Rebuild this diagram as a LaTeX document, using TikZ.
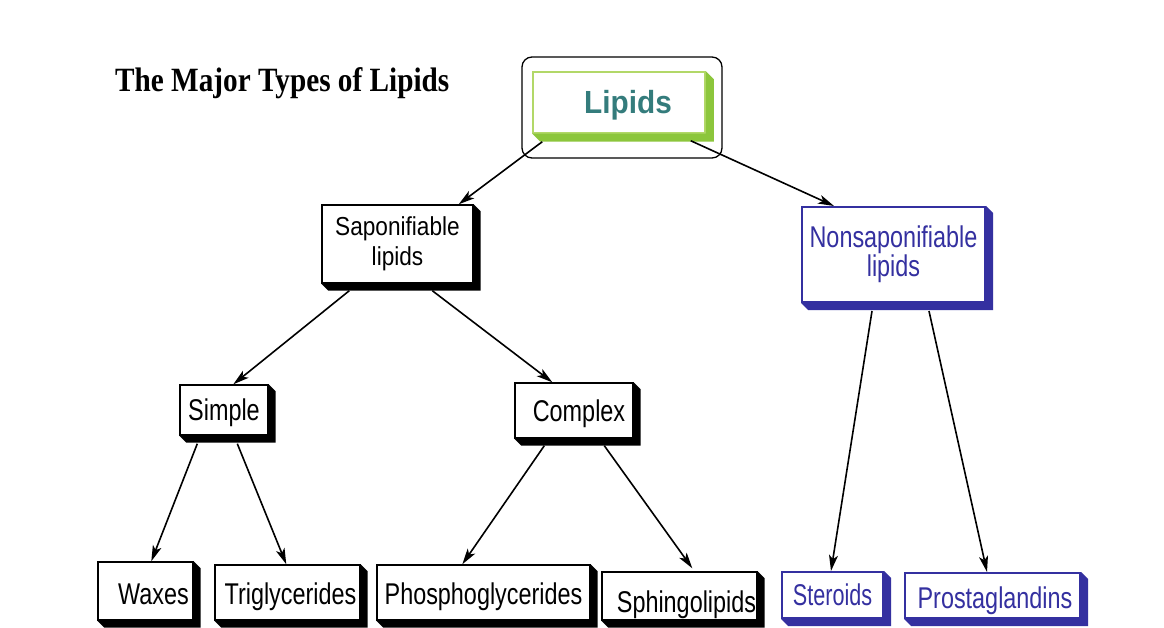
\documentclass[tikz,border=0pt]{standalone}
\usepackage{fontspec}
\setmainfont{Liberation Sans}
\newfontfamily\fA[FakeStretch=0.78]{Liberation Sans}
\newfontfamily\fB[FakeStretch=0.87]{Liberation Sans}
\newfontfamily\fC[FakeStretch=0.72]{Liberation Sans}
\newfontfamily\fL[FakeStretch=0.93]{Liberation Sans}
\newfontfamily\fT[FakeStretch=0.86]{Liberation Serif}
\usetikzlibrary{arrows.meta,calc}
\definecolor{nblue}{RGB}{52,48,160}
\definecolor{lgreen}{RGB}{140,198,60}
\definecolor{lgreenb}{RGB}{178,216,104}
\definecolor{tealtx}{RGB}{52,124,124}
\tikzset{
  bcore/.style={draw=black, line width=1.4pt, fill=white, inner sep=0pt, text=black, align=center,
    font=\fA\fontsize{30}{36}\selectfont},
  bbox/.style={bcore, text height=21.6pt, text depth=0pt},
  ucore/.style={bcore, draw=nblue, text=nblue, line width=2pt},
  ubox/.style={bbox, draw=nblue, text=nblue, line width=2pt},
  arr/.style={-{Stealth[length=16pt,width=9pt,inset=4pt]}, line width=1.6pt},
}
\newcommand\dropshade[3]{% name, colour, depth
  \fill[#2] (#1.south west) -- ++(#3,#3) -| ($(#1.north east)+(#3,#3)$) -- (#1.north east) -- (#1.south east) -- cycle;}
\begin{document}
\begin{tikzpicture}[x=1pt,y=-1pt]
\useasboundingbox (0,0) rectangle (1164,628);
\fill[white] (0,0) rectangle (1164,628);

% title
\node[anchor=base west, inner sep=0pt, font=\fT\bfseries\fontsize{34}{36}\selectfont] (title) at (115,92) {The Major Types of Lipids};

% Lipids
\node[draw=black, line width=1.3pt, rounded corners=10pt, minimum width=200pt, minimum height=101pt, inner sep=0pt] (lipout) at (622,107.5) {};
\node[draw=lgreenb, line width=1.5pt, fill=white, inner sep=0pt, minimum width=172pt, minimum height=61pt,
  text=tealtx, font=\fL\bfseries\fontsize{32}{36}\selectfont, text height=23pt, text depth=0pt] (lipin) at (619,102.5) {\hspace*{18pt}Lipids};
\dropshade{lipin}{lgreen}{8}

% level 2
\node[bcore, minimum width=151pt, minimum height=78pt, font=\fB\fontsize{26}{30}\selectfont] (sap) at (397.5,244) {Saponifiable\\lipids};
\dropshade{sap}{black}{7}
\node[ucore, minimum width=183pt, minimum height=95pt, font=\fA\fontsize{30}{29}\selectfont] (nonsap) at (893.5,254.5) {Nonsaponifiable\\lipids};
\dropshade{nonsap}{nblue}{7}

% level 3
\node[bbox, minimum width=88pt, minimum height=50pt] (simple) at (224,410) {Simple};
\dropshade{simple}{black}{7}
\node[bbox, minimum width=118pt, minimum height=55pt] (complex) at (574,410.5) {\hspace*{10pt}Complex};
\dropshade{complex}{black}{7}

% level 4
\node[bbox, minimum width=95pt, minimum height=58pt, text height=26.6pt] (waxes) at (145.5,591) {\hspace*{16pt}Waxes};
\dropshade{waxes}{black}{7}
\node[bbox, minimum width=145pt, minimum height=55pt, text height=23.6pt] (trig) at (287.5,592.5) {\hspace*{6pt}Triglycerides};
\dropshade{trig}{black}{7}
\node[bbox, minimum width=213pt, minimum height=55pt, text height=23.6pt] (phos) at (483.5,592.5) {Phosphoglycerides};
\dropshade{phos}{black}{7}
\node[bbox, minimum width=155pt, minimum height=48pt, text height=33pt] (sphingo) at (679.5,596) {\hspace*{14pt}Sphingolipids};
\dropshade{sphingo}{black}{7}
\node[ubox, minimum width=101pt, minimum height=46pt, font=\fC\fontsize{30}{36}\selectfont] (steroids) at (832.5,595) {Steroids};
\dropshade{steroids}{nblue}{7}
\node[ubox, minimum width=175pt, minimum height=45pt, text height=25.6pt] (prosta) at (992.5,595.5) {\hspace*{5pt}Prostaglandins};
\dropshade{prosta}{nblue}{7}

% connectors
\draw[arr] ($(lipin.south west)+(10,8)$) -- ($(sap.north east)+(-15,0)$);
\draw[arr] ($(lipin.south east)+(-15,7)$) -- ($(nonsap.north west)+(33,0)$);
\draw[arr] ($(sap.south west)+(28,7)$) -- ($(simple.north west)+(54,0)$);
\draw[arr] ($(sap.south west)+(111,7)$) -- ($(complex.north west)+(38,0)$);
\draw[arr] ($(simple.south west)+(18,8)$) -- ($(waxes.north west)+(54,0)$);
\draw[arr] ($(simple.south west)+(58,8)$) -- ($(trig.north west)+(72,0)$);
\draw[arr] ($(complex.south west)+(30,7)$) -- ($(phos.north west)+(86,0)$);
\draw[arr] ($(complex.south west)+(90,7)$) -- ($(sphingo.north west)+(91,-3)$);
\draw[arr] ($(nonsap.south west)+(71,8)$) -- ($(steroids.north west)+(50,0)$);
\draw[arr] ($(nonsap.south west)+(128,8)$) -- ($(prosta.north west)+(83,0)$);
\end{tikzpicture}
\end{document}
